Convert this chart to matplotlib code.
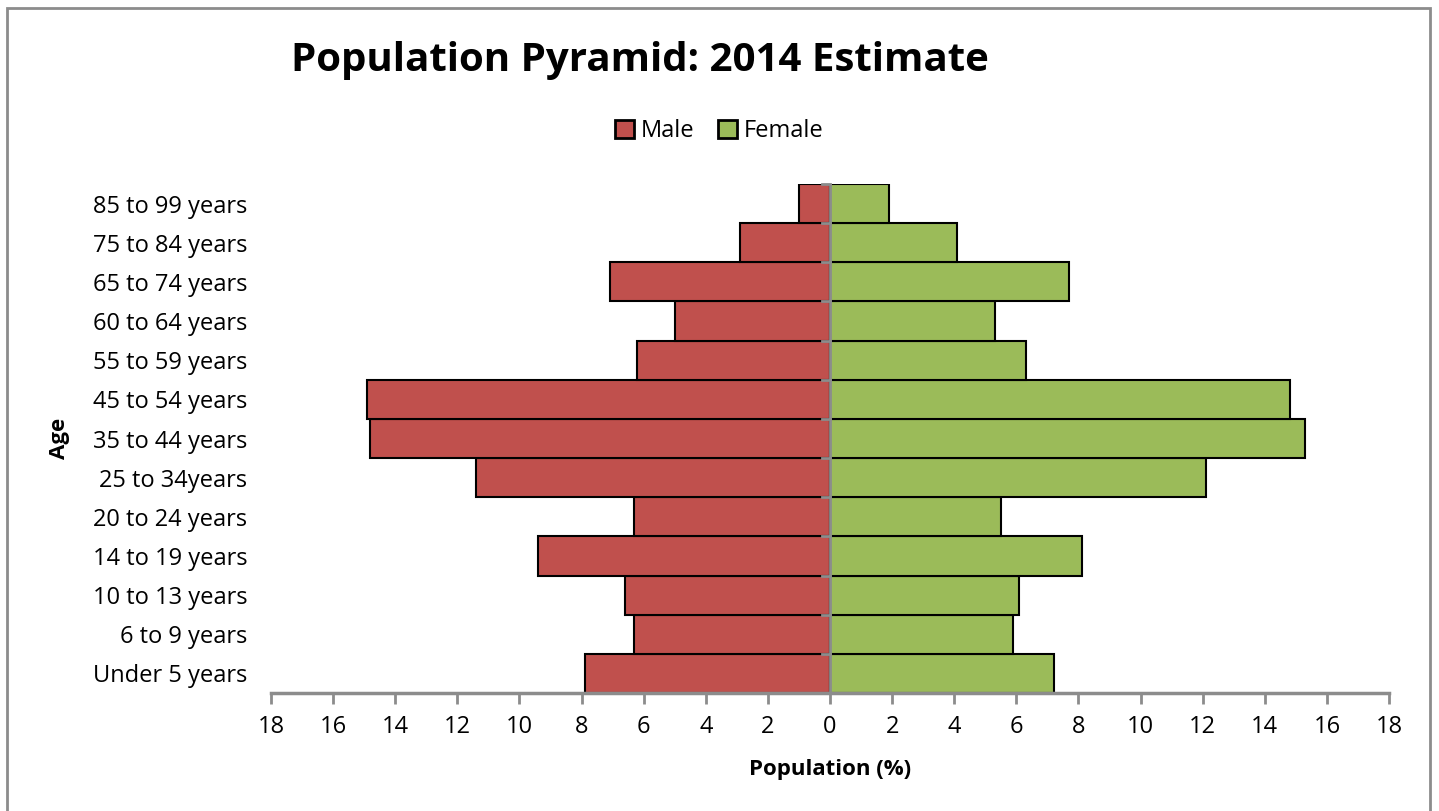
import matplotlib.pyplot as plt
from matplotlib.patches import Rectangle

ages = ["Under 5 years", "6 to 9 years", "10 to 13 years", "14 to 19 years",
        "20 to 24 years", "25 to 34years", "35 to 44 years", "45 to 54 years",
        "55 to 59 years", "60 to 64 years", "65 to 74 years", "75 to 84 years",
        "85 to 99 years"]
male = [7.9, 6.3, 6.6, 9.4, 6.3, 11.4, 14.8, 14.9, 6.2, 5.0, 7.1, 2.9, 1.0]
female = [7.2, 5.9, 6.1, 8.1, 5.5, 12.1, 15.3, 14.8, 6.3, 5.3, 7.7, 4.1, 1.9]
ticks = list(range(-18, 19, 2))

plt.rcParams['font.family'] = ['Open Sans', 'DejaVu Sans']

fig = plt.figure(figsize=(14.39, 8.11), dpi=100)
fig.patches.append(Rectangle((0.005, -0.01), 0.989, 1.0, transform=fig.transFigure,
                             fill=False, edgecolor='#8c8c8c', linewidth=2))
ax = fig.add_axes([0.1883, 0.1455, 0.777, 0.6276])

y = list(range(len(ages)))
ax.barh(y, [-m for m in male], height=1.0, color='#C0504D', edgecolor='black',
        linewidth=1.5, label='Male')
ax.barh(y, female, height=1.0, color='#9BBB59', edgecolor='black',
        linewidth=1.5, label='Female')

ax.set_xlim(-18, 18)
ax.set_ylim(-0.5, 12.5)
ax.set_xticks(ticks)
ax.set_xticklabels([str(abs(t)) for t in ticks], fontsize=17)
ax.set_yticks(y)
ax.set_yticklabels(ages, fontsize=17)
ax.tick_params(axis='y', length=0, pad=17)
ax.tick_params(axis='x', direction='out', length=8, width=2, color='#8c8c8c', pad=8)

# center axis line with boundary ticks
ax.axvline(0, color='#8c8c8c', linewidth=2, zorder=5)
for b in range(len(ages) + 1):
    ax.plot([-0.25, 0], [b - 0.5, b - 0.5], color='#8c8c8c', linewidth=2,
            zorder=5, clip_on=False)

for s in ['top', 'right', 'left']:
    ax.spines[s].set_visible(False)
ax.spines['bottom'].set_color('#8c8c8c')
ax.spines['bottom'].set_linewidth(2.5)

ax.set_xlabel("Population (%)", fontsize=16, fontweight='bold', labelpad=14)
ax.set_ylabel("Age", fontsize=16, fontweight='bold')
ax.yaxis.set_label_coords(-0.18, 0.5)

fig.text(0.445, 0.925, "Population Pyramid: 2014 Estimate", fontsize=29,
         fontweight='bold', ha='center', va='center')
fig.legend(loc='center', bbox_to_anchor=(0.5, 0.838), ncol=2, frameon=False,
           fontsize=17, handlelength=0.8, handleheight=0.8, handletextpad=0.3,
           columnspacing=1.0)
for h in fig.legends[0].legend_handles:
    h.set_linewidth(2)

fig.savefig("out.png", dpi=100)
